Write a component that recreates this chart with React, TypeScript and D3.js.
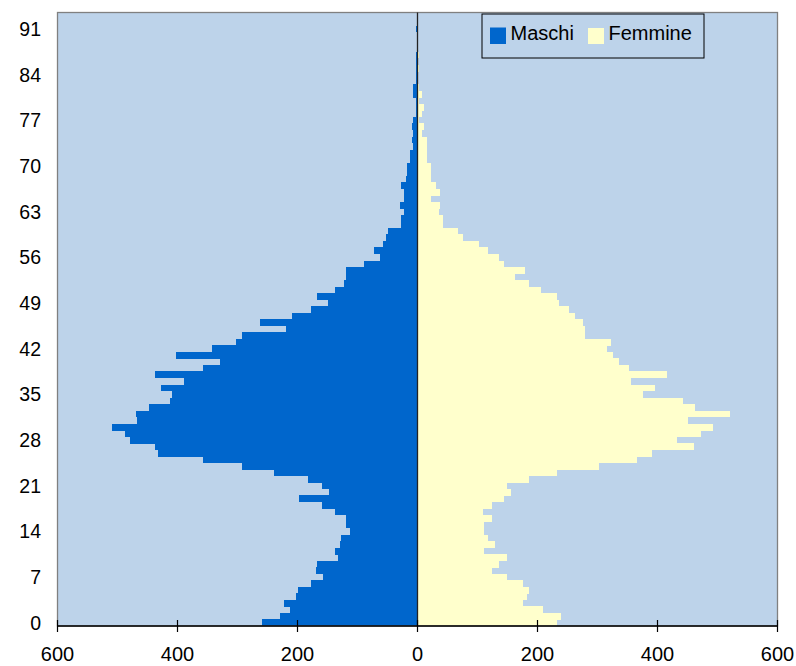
import React from "react";
import * as d3 from "d3";

// Population by age (0..93)
const maschi = [
  260, 230, 213, 223, 203, 200, 177, 157, 170, 167,
  133, 137, 130, 127, 113, 120, 120, 137, 160, 197,
  147, 160, 183, 240, 293, 357, 433, 437, 480, 487,
  510, 467, 470, 447, 413, 410, 427, 390, 437, 357,
  330, 403, 343, 303, 293, 220, 263, 210, 177, 150,
  167, 137, 123, 120, 120, 90, 63, 73, 57, 53,
  50, 27, 27, 23, 30, 23, 23, 27, 20, 17,
  17, 13, 13, 7, 10, 7, 10, 7, 3, 3,
  3, 7, 7, 2, 3, 3, 3, 3, 0, 0,
  0, 3, 0, 0,
];

const femmine = [
  232, 239, 209, 175, 182, 185, 175, 149, 124, 135,
  149, 110, 129, 117, 110, 110, 124, 109, 124, 144,
  155, 149, 186, 232, 303, 366, 390, 460, 433, 473,
  493, 450, 520, 463, 443, 376, 396, 356, 416, 353,
  336, 326, 316, 323, 279, 279, 276, 262, 252, 236,
  232, 205, 185, 163, 179, 144, 135, 117, 102, 75,
  68, 42, 42, 35, 37, 23, 37, 30, 23, 23,
  23, 15, 15, 15, 15, 8, 10, 3, 8, 10,
  2, 8, 2, 0, 0, 3, 0, 3, 0, 0,
  0, 0, 0, 0,
];

const ageTickLabels = [0, 7, 14, 21, 28, 35, 42, 49, 56, 63, 70, 77, 84, 91];
const xTickValues = [-600, -400, -200, 0, 200, 400, 600];
const seriesNames = ["Maschi", "Femmine"];
const seriesColors = ["#0066CC", "#FFFFCC"];

export default function App() {
  const W = 796;
  const H = 666;
  const left = 57.5;
  const right = 777.5;
  const top = 12.5;
  const bottom = 626;
  const plotBg = "#BDD3EA";
  const font = "'Liberation Sans', Arial, sans-serif";

  const ages = d3.range(maschi.length);
  const x = d3.scaleLinear().domain([-600, 600]).range([left, right]);
  const y = d3
    .scaleBand<number>()
    .domain(ages)
    .range([bottom, top])
    .paddingInner(0)
    .paddingOuter(0);
  const bw = y.bandwidth();
  const x0 = x(0);

  return (
    <svg
      width={W}
      height={H}
      style={{ position: "absolute", left: 0, top: 0, background: "#fff" }}
      fontFamily={font}
    >
      <rect x={left} y={top} width={right - left} height={bottom - top} fill={plotBg} />
      <g shapeRendering="crispEdges">
        {ages.map((a) =>
          maschi[a] > 0 ? (
            <rect
              key={"m" + a}
              x={x(-maschi[a])}
              y={y(a)!}
              width={x0 - x(-maschi[a])}
              height={bw + 0.3}
              fill={seriesColors[0]}
            />
          ) : null
        )}
        {ages.map((a) =>
          femmine[a] > 0 ? (
            <rect
              key={"f" + a}
              x={x0}
              y={y(a)!}
              width={x(femmine[a]) - x0}
              height={bw + 0.3}
              fill={seriesColors[1]}
            />
          ) : null
        )}
      </g>
      {/* plot border */}
      <rect
        x={left}
        y={top}
        width={right - left}
        height={bottom - top}
        fill="none"
        stroke="#808080"
        strokeWidth={1.3}
      />
      {/* category axis at zero */}
      <line x1={x0} x2={x0} y1={top} y2={bottom} stroke="#222" strokeWidth={1.3} />
      {/* value axis */}
      <line x1={left} x2={right} y1={bottom} y2={bottom} stroke="#000" strokeWidth={1.3} />
      {xTickValues.map((v) => (
        <g key={"xt" + v}>
          <line x1={x(v)} x2={x(v)} y1={bottom - 6} y2={bottom + 6} stroke="#000" strokeWidth={1.2} />
          <text
            x={x(v)}
            y={661}
            textAnchor="middle"
            fontSize={20}
            fill="#000"
          >
            {Math.abs(v)}
          </text>
        </g>
      ))}
      {ageTickLabels.map((a) => (
        <text
          key={"yt" + a}
          x={41}
          y={y(a)! + bw / 2}
          dy="0.36em"
          textAnchor="end"
          fontSize={19.5}
          fill="#000"
        >
          {a}
        </text>
      ))}
      {/* legend */}
      <g>
        <rect x={482} y={14} width={222} height={44} fill={plotBg} stroke="#000" strokeWidth={1} />
        <rect x={490} y={27.5} width={16} height={16.5} fill={seriesColors[0]} />
        <text x={510.5} y={40} fontSize={20} fill="#000">
          {seriesNames[0]}
        </text>
        <rect x={588} y={28} width={16} height={16} fill={seriesColors[1]} />
        <text x={608.5} y={40} fontSize={20} fill="#000">
          {seriesNames[1]}
        </text>
      </g>
    </svg>
  );
}
